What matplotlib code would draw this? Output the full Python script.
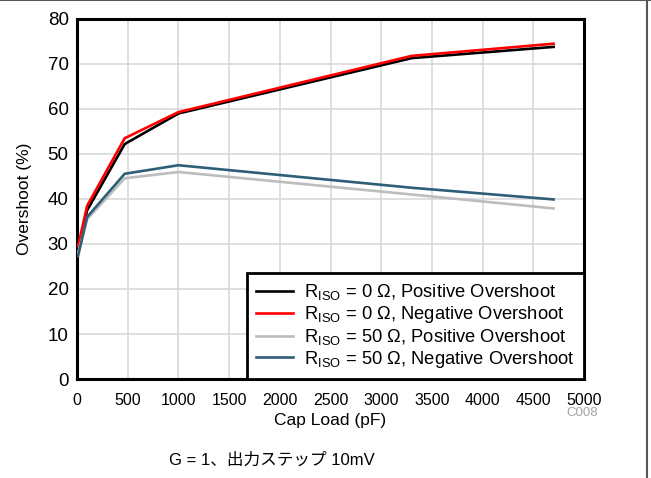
import numpy as np
import matplotlib.pyplot as plt
from matplotlib.lines import Line2D

plt.rcParams['font.family'] = ['Liberation Sans', 'Noto Sans CJK JP']
plt.rcParams['mathtext.fontset'] = 'custom'
plt.rcParams['mathtext.rm'] = 'Liberation Sans'
plt.rcParams['mathtext.it'] = 'Liberation Sans:italic'

# cap load (pF) and overshoot (%)
cap_load = [10, 100, 470, 1000, 3300, 4700]
pos_0 = [29.0, 37.5, 52.2, 59.0, 71.3, 73.8]
neg_0 = [29.5, 38.5, 53.5, 59.3, 71.8, 74.5]
pos_50 = [28.0, 35.5, 44.6, 46.0, 41.0, 37.9]
neg_50 = [27.3, 36.0, 45.6, 47.5, 42.5, 39.9]

labels = [r"R$_{\mathrm{ISO}}$ = 0 Ω, Positive Overshoot",
          r"R$_{\mathrm{ISO}}$ = 0 Ω, Negative Overshoot",
          r"R$_{\mathrm{ISO}}$ = 50 Ω, Positive Overshoot",
          r"R$_{\mathrm{ISO}}$ = 50 Ω, Negative Overshoot"]
colors = ["#000000", "#ff0000", "#bdbdbd", "#2e5e78"]

fig = plt.figure(figsize=(6.51, 4.78), dpi=100)
ax = fig.add_axes([0.1183, 0.2071, 0.7788, 0.7532])

for ys, c, lab in zip([pos_0, neg_0, pos_50, neg_50], colors, labels):
    ax.plot(cap_load, ys, color=c, lw=1.9, label=lab, zorder=3)

ax.set_xlim(0, 5000)
ax.set_ylim(0, 80)
ax.set_xticks(np.arange(0, 5001, 500))
ax.set_yticks(np.arange(0, 81, 10))
ax.grid(True, color="#d6d6d6", lw=1.1)
ax.set_axisbelow(True)
for s in ax.spines.values():
    s.set_linewidth(2.2)
    s.set_color("black")
ax.tick_params(axis="x", length=0, pad=10, labelsize=11.5)
ax.tick_params(axis="y", length=0, pad=6, labelsize=13.5)

ax.set_xlabel("Cap Load (pF)", fontsize=12.5, labelpad=4)
ax.set_ylabel("Overshoot (%)", fontsize=12.5, labelpad=11)

leg = ax.legend(loc="lower right", bbox_to_anchor=(1.0, 0.0), borderaxespad=0,
                fancybox=False, fontsize=13.2, handlelength=2.0,
                labelspacing=0.1, handletextpad=0.6, borderpad=0.5)
leg.get_frame().set_edgecolor("black")
leg.get_frame().set_linewidth(2.0)
leg.get_frame().set_alpha(1)

fig.text(0.918, 0.135, "C008", color="#a6a6a6", fontsize=9.5, ha="right", va="center")
fig.text(0.418, 0.037, "G = 1、出力ステップ 10mV", fontsize=12, ha="center", va="center")

# outer frame (top and right edges)
fig.add_artist(Line2D([0, 1], [0.999, 0.999], transform=fig.transFigure, color="#555555", lw=1.5))
fig.add_artist(Line2D([0.9935, 0.9935], [0, 1], transform=fig.transFigure, color="#555555", lw=1.5))

fig.savefig("out.png", dpi=100)
